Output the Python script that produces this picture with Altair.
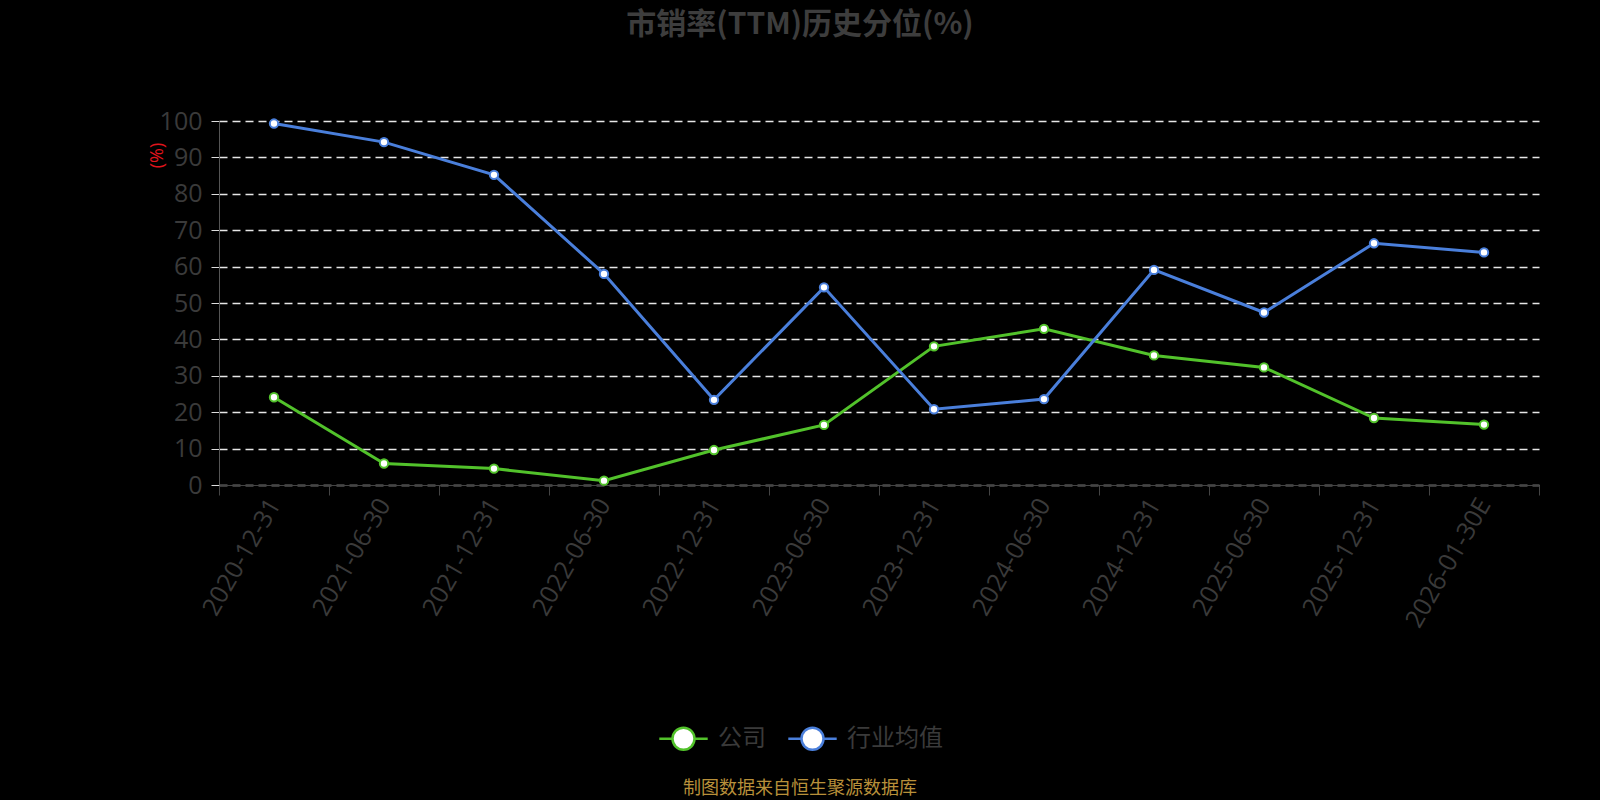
import altair as alt
import pandas as pd

dates = ["2020-12-31", "2021-06-30", "2021-12-31", "2022-06-30", "2022-12-31", "2023-06-30",
         "2023-12-31", "2024-06-30", "2024-12-31", "2025-06-30", "2025-12-31", "2026-01-30E"]
company = [24.1, 5.9, 4.5, 1.2, 9.6, 16.5, 38.1, 42.9, 35.6, 32.3, 18.4, 16.6]
industry = [99.3, 94.2, 85.2, 58.0, 23.4, 54.3, 20.8, 23.6, 59.1, 47.4, 66.4, 63.9]
series_names = ["公司", "行业均值"]
series_colors = ["#52c22b", "#4a7fdb"]
y_ticks = [0, 10, 20, 30, 40, 50, 60, 70, 80, 90, 100]

# page background black (the chart fills the whole window in the reference)
try:
    import altair.utils.html as _h
    _orig = _h.TEMPLATES["standard"]

    class _BlackPage:
        def render(self, **kw):
            return _orig.render(**kw).replace(
                "<head>", "<head><style>html,body{background:#000;}</style>", 1)

    _h.TEMPLATES["standard"] = _BlackPage()
except Exception:
    pass

rows = []
for d, c, i in zip(dates, company, industry):
    rows.append({"date": d, "series": series_names[0], "value": c})
    rows.append({"date": d, "series": series_names[1], "value": i})
df = pd.DataFrame(rows)

W, H = 1320, 364
OX, OY = 219, 121
LABEL_SIZE = 25

legend_path = ("M-1.1,0 L-0.5,0 M0.5,0 L1.1,0 "
               "M0.5,0 A0.5,0.5 0 1,1 -0.5,0 A0.5,0.5 0 1,1 0.5,0 Z")

color_scale = alt.Scale(domain=series_names, range=series_colors)

x_enc = alt.X(
    "date:N", sort=dates, bandPosition=0.5,
    scale=alt.Scale(type="band", paddingInner=0, paddingOuter=0),
    axis=alt.Axis(
        title=None, labelAngle=-60, labelAlign="right", labelBaseline="middle",
        labelFontSize=LABEL_SIZE, labelColor="#3a3a3a", labelFont="Open Sans",
        labelPadding=5, tickBand="extent", tickSize=10, tickColor="#444444",
        domainColor="#444444", grid=False, labelOverlap=False,
    ),
)
y_enc = alt.Y(
    "value:Q",
    scale=alt.Scale(domain=[0, 100], nice=False, zero=True),
    axis=alt.Axis(
        values=y_ticks, tickCount=len(y_ticks), labelOverlap=False,
        title="(%)", titleColor="#e0141c", titleFontSize=18,
        titleFontWeight="normal", titleFont="Open Sans",
        titleX=-62, titleY=34, titleAngle=-90, titleAlign="center", titleBaseline="middle",
        labelFontSize=LABEL_SIZE, labelColor="#3a3a3a", labelFont="Open Sans", labelPadding=6,
        tickSize=11, tickColor="#dddddd", tickDash=[8, 5],
        domainColor="#555555", grid=True, gridColor="#e6e6e6", gridDash=[8, 5],
        gridWidth=1.3,
    ),
)
legend = alt.Legend(
    title=None, orient="none", direction="horizontal",
    legendX=441, legendY=594,
    symbolType=legend_path, symbolSize=1936, symbolStrokeWidth=2.5,
    symbolFillColor="white", labelFontSize=24, labelColor="#3a3a3a",
    labelFont="Noto Sans CJK SC", columnPadding=17, labelOffset=11,
)
stroke_enc = alt.Stroke("series:N", scale=color_scale, sort=series_names, legend=legend)

lines = alt.Chart(df).mark_line(strokeWidth=3).encode(
    x=x_enc, y=y_enc, stroke=stroke_enc,
)

points = alt.Chart(df).mark_point(filled=False, fill="white", fillOpacity=1, size=70,
                                  strokeWidth=2, opacity=1).encode(
    x=x_enc, y=y_enc, stroke=stroke_enc,
)

source = alt.Chart(pd.DataFrame({"t": ["制图数据来自恒生聚源数据库"]})).mark_text(
    fontSize=18, color="#b8903a", font="Noto Sans CJK SC", align="center", baseline="middle"
).encode(
    text="t:N", x=alt.value(800 - OX), y=alt.value(789 - OY)
)

chart = alt.layer(lines, points, source).properties(
    width=W, height=H,
    title=alt.Title(
        "市销率(TTM)历史分位(%)", fontSize=30, fontWeight="bold", color="#3d3d3d",
        font="Noto Sans CJK SC", anchor="middle", dx=-(OX + W / 2 - 800), offset=69,
    ),
    padding={"left": OX - 8, "top": OY - 8, "right": 1592 - OX - W, "bottom": 808 - OY - H},
    autosize=alt.AutoSizeParams(type="none"),
).configure(background="black").configure_view(stroke=None).configure_axis(
    labelFontSize=LABEL_SIZE, labelColor="#3a3a3a"
)

chart.save("out.html", embed_options={"renderer": "svg", "actions": False})
